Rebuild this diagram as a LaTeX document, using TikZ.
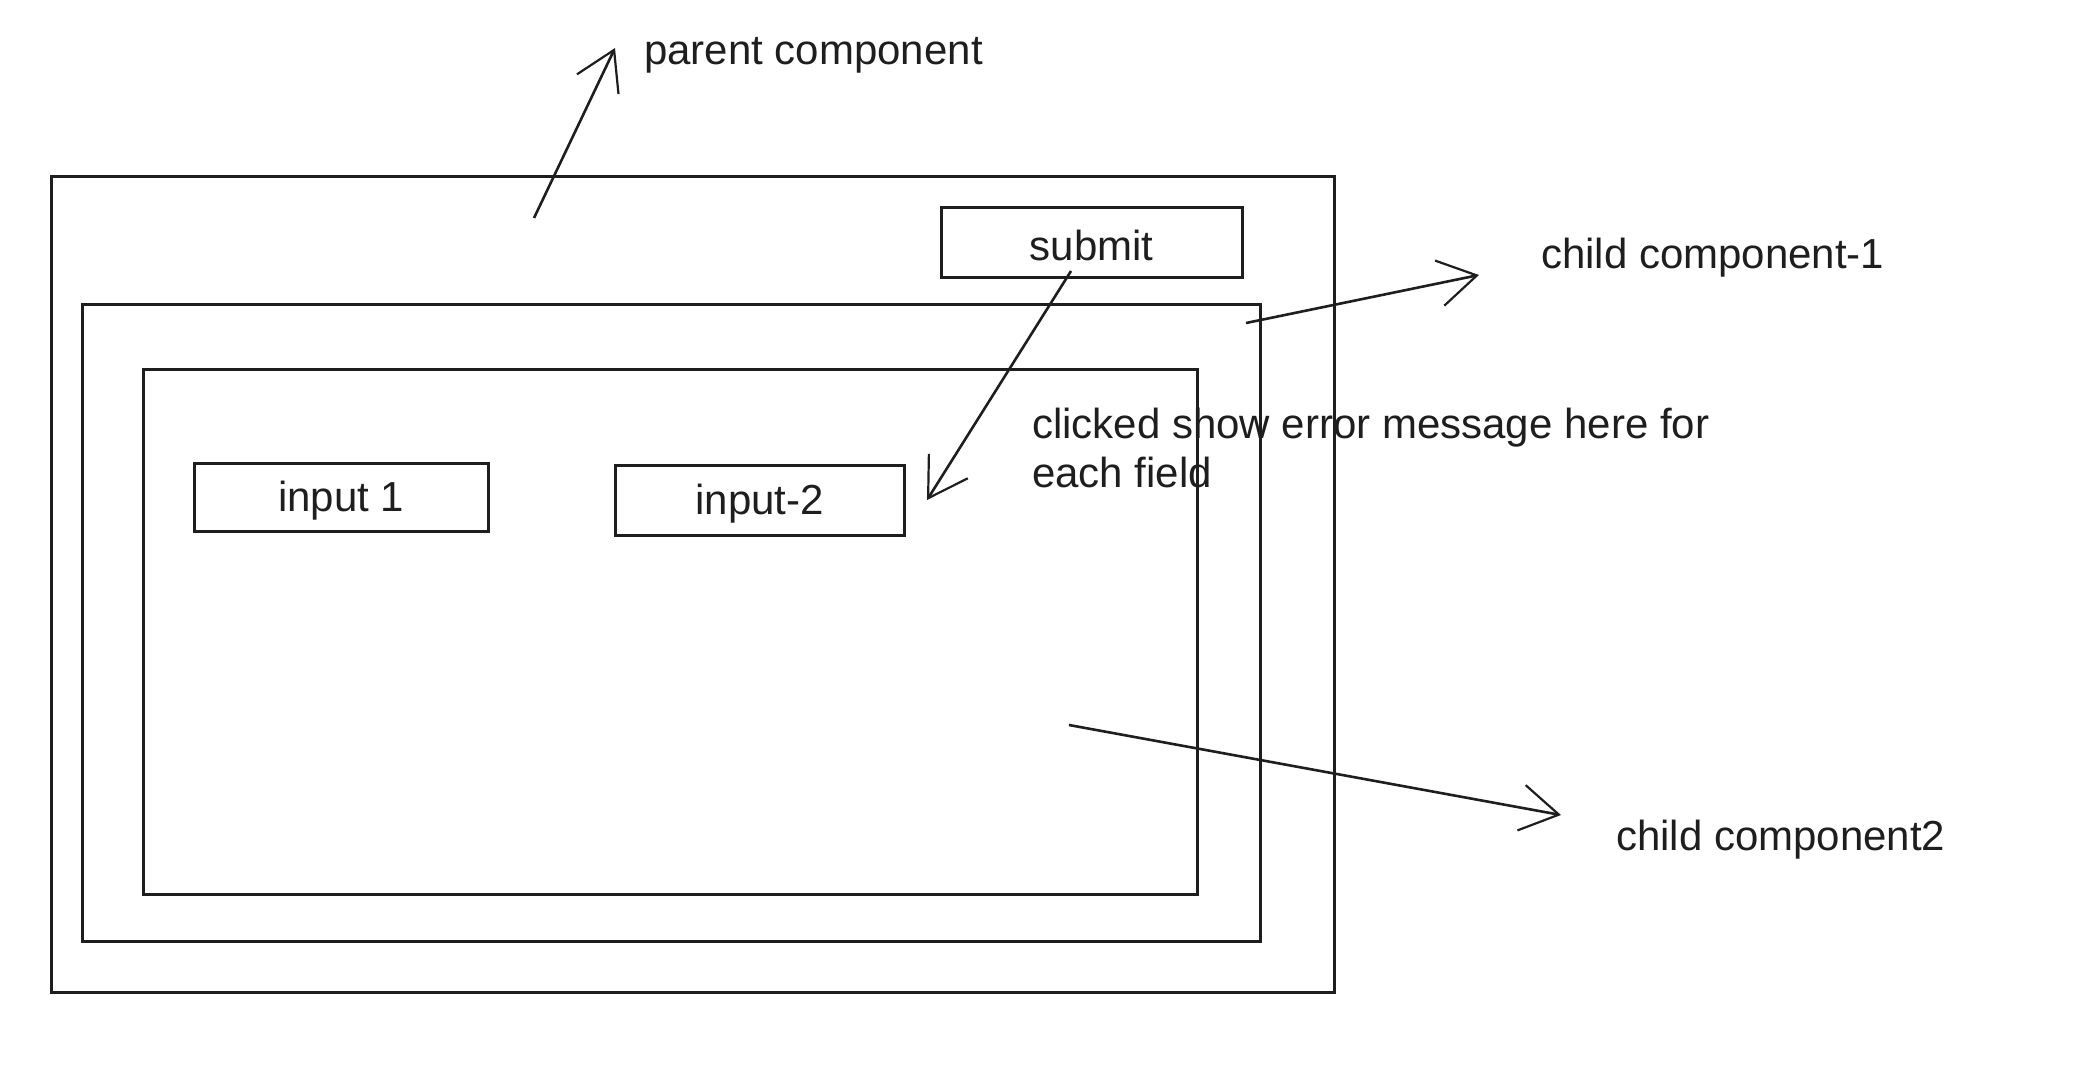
\documentclass[tikz,border=0pt]{standalone}
\usepackage{fontspec}
\setmainfont{Liberation Sans}
\usetikzlibrary{arrows.meta}
\definecolor{ink}{HTML}{1E1E1E}
\tikzset{
  box/.style={draw=ink, line width=2.6pt, inner sep=0pt, anchor=north west, text=ink},
  boxtext/.style={text=ink, font=\fontsize{42}{48}\selectfont},
  lbl/.style={inner sep=0pt, anchor=west, text=ink, align=left, font=\fontsize{42}{49}\selectfont},
  conn/.style={draw=ink, line width=2.6pt, -{Straight Barb[length=38pt,width=46pt,line width=2.2pt]}}
}
\begin{document}
\begin{tikzpicture}[x=1pt,y=-1pt]
\useasboundingbox (0,0) rectangle (2074,1074);
% containers
\node[box, minimum width=1283pt, minimum height=816pt] (outer) at (50,175) {};
\node[box, minimum width=1178pt, minimum height=637pt] (child1) at (81,303) {};
\node[box, minimum width=1054pt, minimum height=525pt] (child2) at (142,368) {};
% buttons / inputs
\node[box, minimum width=301pt, minimum height=70pt] (submit) at (940,206) {};
\node[boxtext] (tsubmit) at ([yshift=-3pt]submit.center) {submit};
\node[box, minimum width=294pt, minimum height=68pt] (input1) at (193,462) {};
\node[boxtext] (tinput1) at ([yshift=-3pt]input1.center) {input 1};
\node[box, minimum width=289pt, minimum height=70pt] (input2) at (614,464) {};
\node[boxtext] (tinput2) at ([yshift=-3pt]input2.center) {input-2};
% labels
\node[lbl] (tparent) at (644,55) {parent component};
\node[lbl] (tchild1) at (1541,258) {child component-1};
\node[lbl] (terror) at (1032,448) {clicked show error message here for\\each field};
\node[lbl] (tchild2) at (1616,840) {child component2};
% arrow coordinates
\coordinate (pa) at (534,218);
\coordinate (pb) at (615,48);
\coordinate (c1a) at (1246,323);
\coordinate (c1b) at (1479,275);
\coordinate (sa) at (1071,271);
\coordinate (sb) at (927,500);
\coordinate (c2a) at (1069,725);
\coordinate (c2b) at (1561,815);
% connectors
\draw[conn] (pa) -- (pb);
\draw[conn] (c1a) -- (c1b);
\draw[conn] (sa) -- (sb);
\draw[conn] (c2a) -- (c2b);
\end{tikzpicture}
\end{document}
